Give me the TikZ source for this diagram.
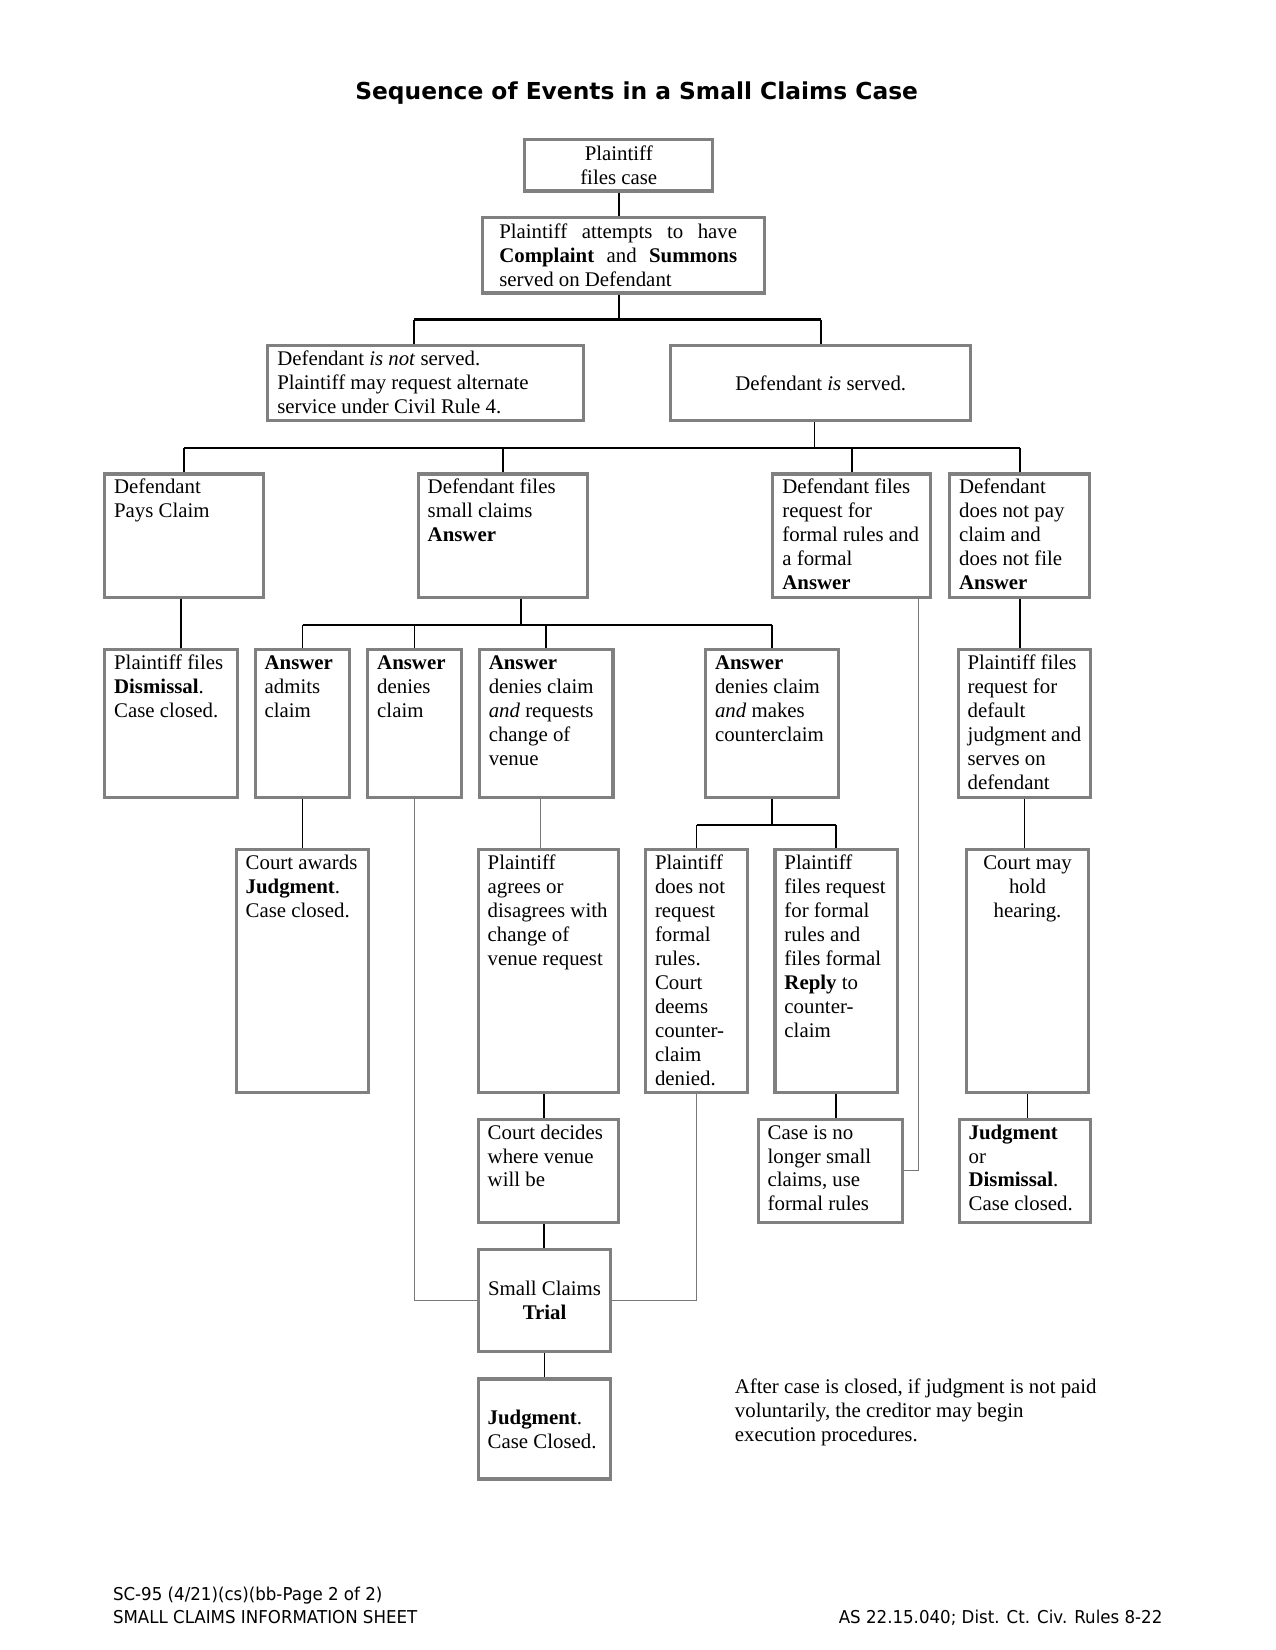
\documentclass[tikz,border=0pt]{standalone}
\usepackage{fontspec}
\setmainfont{Liberation Serif}
\newfontfamily\headfont{DejaVu Sans}
\newfontfamily\footfont[FakeStretch=0.94]{DejaVu Sans}
\usepackage{tikz}

\newlength\pxu
\setlength\pxu{0.505pt}
\definecolor{boxedge}{RGB}{128,128,128}
\definecolor{faintline}{RGB}{120,120,120}

% box text: width, height of the box; text set from the top / centred
\newcommand{\stagetext}[4][\raggedright]{\parbox[c][\dimexpr#3\pxu-6\pxu\relax][t]{\dimexpr#2\pxu-18\pxu\relax}{#1\strut#4}}
\newcommand{\stagemid}[4][\raggedright]{\parbox[c][\dimexpr#3\pxu-6\pxu\relax][c]{\dimexpr#2\pxu-18\pxu\relax}{#1#4}}
\newcommand{\spread}[1]{\hspace*{7\pxu}\makebox[226\pxu][s]{#1}}

\tikzset{
  stage/.style={draw=boxedge, line width=1.5pt, anchor=north west,
    inner xsep=9\pxu, inner ysep=3\pxu, font=\fontsize{10}{11.5}\selectfont},
  link/.style={draw=black, line width=0.8pt},
  bar/.style={draw=black, line width=1.5pt},
  faint/.style={draw=faintline, line width=0.4pt}
}

\begin{document}
\begin{tikzpicture}[x=0.505pt, y=-0.505pt]
    \useasboundingbox (0,0) rectangle (1212,1568);

    \node[font=\headfont\bfseries\fontsize{11.2}{13}\selectfont] (ttl) at (605,88) {Sequence of Events in a Small Claims Case};

    % filing and service
    \node[stage] (pfc) at (497,131) {\stagemid[\centering]{179}{49}{Plaintiff\\files case}};
    \node[stage] (att) at (457,205) {\stagemid{268}{72}{\spread{Plaintiff attempts to have}\\\spread{\textbf{Complaint} and \textbf{Summons}}\\\hspace*{7\pxu}served on Defendant}};
    \node[stage] (nsv) at (253,327) {\stagetext{300}{71}{Defendant \textit{is not} served.\\Plaintiff may request alternate\\service under Civil Rule 4.}};
    \node[stage] (srv) at (636,327) {\stagemid[\centering]{285}{71}{Defendant \textit{is} served.}};

    % defendant responses
    \node[stage] (pay) at (98,449) {\stagetext{151}{117}{Defendant\\Pays Claim}};
    \node[stage] (ans) at (396,449) {\stagetext{161}{117}{Defendant files\\small claims\\\textbf{Answer}}};
    \node[stage] (dfr) at (733,449) {\stagetext{150}{117}{Defendant files\\request for\\formal rules and\\a formal\\\textbf{Answer}}};
    \node[stage] (dnp) at (901,449) {\stagetext{133}{117}{Defendant\\does not pay\\claim and\\does not file\\\textbf{Answer}}};

    \node[stage] (dis) at (98,616) {\stagetext{126}{140}{Plaintiff files\\\textbf{Dismissal}.\\Case closed.}};
    \node[stage] (adm) at (241,616) {\stagetext{90}{140}{\textbf{Answer}\\admits\\claim}};
    \node[stage] (den) at (348,616) {\stagetext{89}{140}{\textbf{Answer}\\denies\\claim}};
    \node[stage] (ven) at (454,616) {\stagetext{127}{140}{\textbf{Answer}\\denies claim\\\textit{and} requests\\change of\\venue}};
    \node[stage] (cc) at (669,616) {\stagetext{126}{140}{\textbf{Answer}\\denies claim\\\textit{and} makes\\counterclaim}};
    \node[stage] (dfj) at (909,616) {\stagetext{126}{140}{Plaintiff files\\request for\\default\\judgment and\\serves on\\defendant}};

    \node[stage] (awd) at (223,806) {\stagetext{126}{231}{Court awards\\\textbf{Judgment}.\\Case closed.}};
    \node[stage] (agr) at (453,806) {\stagetext{133}{231}{Plaintiff\\agrees or\\disagrees with\\change of\\venue request}};
    \node[stage] (nrq) at (612,806) {\stagetext{97}{231}{Plaintiff\\does not\\request\\formal\\rules.\\Court\\deems\\counter-\\claim\\denied.}};
    \node[stage] (rpl) at (735,806) {\stagetext{116}{231}{Plaintiff\\files request\\for formal\\rules and\\files formal\\\textbf{Reply} to\\counter-\\claim}};
    \node[stage] (hrg) at (917,806) {\stagetext[\centering]{116}{231}{Court may\\hold\\hearing.}};

    \node[stage] (vdc) at (453,1062) {\stagetext{133}{98}{Court decides\\where venue\\will be}};
    \node[stage] (fml) at (719,1062) {\stagetext{137}{98}{Case is no\\longer small\\claims, use\\formal rules}};
    \node[stage] (jod) at (910,1062) {\stagetext{125}{98}{\textbf{Judgment}\\or\\\textbf{Dismissal}.\\Case closed.}};

    \node[stage] (trl) at (453,1186) {\stagemid[\centering]{126}{97}{Small Claims\\\textbf{Trial}}};
    \node[stage] (jdg) at (453,1309) {\stagemid{126}{95}{\textbf{Judgment}.\\Case Closed.}};

    \node[anchor=north west, align=left, inner sep=0pt, font=\fontsize{10}{11.5}\selectfont] (exec) at (698,1310)
        {After case is closed, if judgment is not paid\\voluntarily, the creditor may begin\\execution procedures.};

    % connectors
    \draw[link] (pfc.south) -- (pfc.south |- att.north);

    \draw[link] (att.south -| pfc.south) -- ++(0,24) coordinate (sv);
    \coordinate (nsvdrop) at ([xshift=-11\pxu]nsv.north);
    \draw[bar] (nsvdrop |- sv) -- (srv.north |- sv);
    \draw[link] (nsvdrop |- sv) -- (nsvdrop);
    \draw[link] (srv.north |- sv) -- (srv.north);

    \draw[link] ([xshift=-6\pxu]srv.south) -- ++(0,25) coordinate (rsp);
    \draw[link] (pay.north |- rsp) -- (dnp.north |- rsp);
    \foreach \n in {pay,ans,dfr,dnp}
        \draw[link] (\n.north |- rsp) -- (\n.north);

    \coordinate (ansdrop) at ([xshift=17\pxu]ans.south);
    \draw[link] (ansdrop) -- ++(0,25) coordinate (ao);
    \draw[link] (adm.north |- ao) -- (cc.north |- ao);
    \foreach \n in {adm,den,ven,cc}
        \draw[link] (\n.north |- ao) -- (\n.north);

    \draw[link] (cc.south) -- ++(0,25) coordinate (co);
    \draw[link] (nrq.north |- co) -- (rpl.north |- co);
    \foreach \n in {nrq,rpl}
        \draw[link] (\n.north |- co) -- (\n.north);

    \draw[link] ([xshift=-3\pxu]pay.south) -- ([xshift=-3\pxu]pay.south |- dis.north);
    \draw[link] (adm.south) -- (adm.south |- awd.north);
    \draw[link] (dnp.south) -- (dnp.south |- dfj.north);
    \draw[link] (dfj.south) -- (dfj.south |- hrg.north);
    \draw[link] (hrg.south) -- (hrg.south |- jod.north);
    \draw[link] ([xshift=-4\pxu]agr.south) -- ([xshift=-4\pxu]agr.south |- vdc.north);
    \draw[link] ([xshift=-4\pxu]vdc.south) -- ([xshift=-4\pxu]vdc.south |- trl.north);
    \draw[link] (trl.south) -- (trl.south |- jdg.north);
    \draw[link] (rpl.south) -- (rpl.south |- fml.north);

    \draw[faint] ([xshift=-5\pxu]ven.south) -- ([xshift=-5\pxu]ven.south |- agr.north);
    \draw[faint] (den.south) |- (trl.west);
    \draw[faint] (nrq.south) |- (trl.east);
    \draw[faint] ([xshift=-13\pxu]dfr.south east) |- (fml.east);

    % footer
    \node[anchor=west, inner sep=0pt, font=\footfont\fontsize{8.5}{10}\selectfont] (form) at (107,1516) {SC-95 (4/21)(cs)(bb-Page 2 of 2)};
    \node[anchor=west, inner sep=0pt, font=\footfont\fontsize{8.5}{10}\selectfont] (sheet) at (107,1537) {SMALL CLAIMS INFORMATION SHEET};
    \node[anchor=east, inner sep=0pt, font=\footfont\fontsize{8.5}{10}\selectfont] (rule) at (1105,1537) {AS 22.15.040; Dist. Ct. Civ. Rules 8-22};
\end{tikzpicture}
\end{document}
